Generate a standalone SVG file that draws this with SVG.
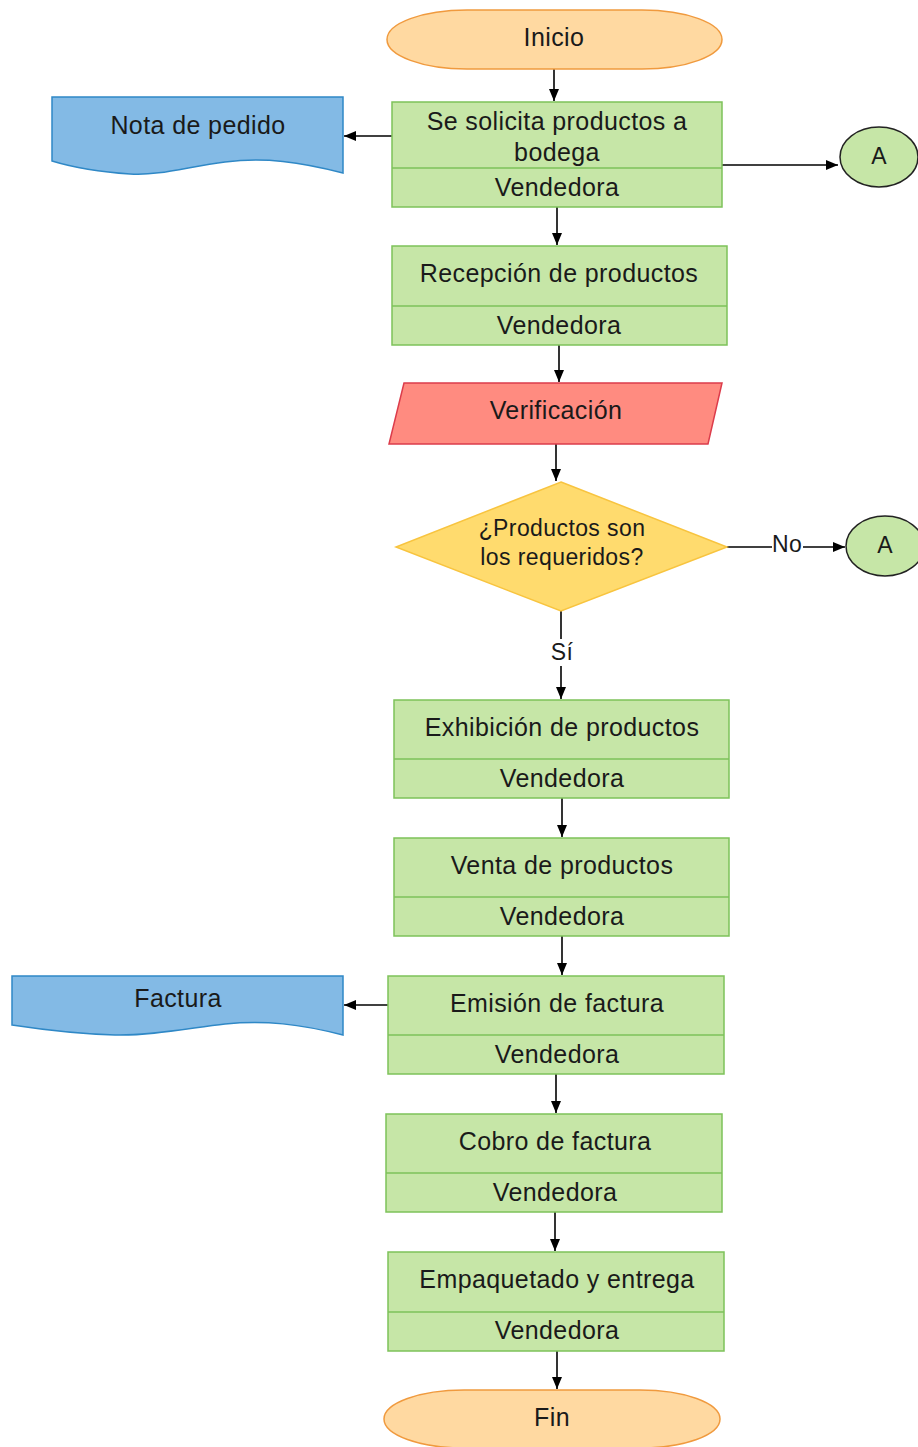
<svg xmlns="http://www.w3.org/2000/svg" width="918" height="1447" viewBox="0 0 918 1447">
  <style>
    text { font-family: "Liberation Sans", Arial, sans-serif; fill: #1a1a1a; text-anchor: middle; dominant-baseline: central; }
    .t { font-size: 25px; letter-spacing: 0.4px; }
    .s { font-size: 23px; letter-spacing: 0.4px; }
    .term { fill: #ffd9a1; stroke: #f09a3e; stroke-width: 1.5; }
    .proc { fill: #c6e6a7; stroke: #7dc25a; stroke-width: 1.5; }
    .doc { fill: #83bae5; stroke: #2f88c6; stroke-width: 1.5; }
    .io { fill: #ff8b80; stroke: #dc3c4b; stroke-width: 1.5; }
    .dec { fill: #ffdb6e; stroke: #f8c43f; stroke-width: 1.5; }
    .conn { fill: #c6e6a7; stroke: #222; stroke-width: 1.5; }
    .edge { fill: none; stroke: #000; stroke-width: 1.6; }
  </style>
  <defs>
    <marker id="arrow" viewBox="0 0 12 10" refX="12" refY="5" markerWidth="12" markerHeight="10" markerUnits="userSpaceOnUse" orient="auto">
      <path d="M0,0 L12,5 L0,10 Z" fill="#000"/>
    </marker>
  </defs>

  <g id="connectors">
    <line class="edge" x1="554" y1="69" x2="554" y2="101" marker-end="url(#arrow)"/>
    <line class="edge" x1="392" y1="136" x2="344" y2="136" marker-end="url(#arrow)"/>
    <line class="edge" x1="722" y1="165" x2="838" y2="165" marker-end="url(#arrow)"/>
    <line class="edge" x1="557" y1="207" x2="557" y2="245" marker-end="url(#arrow)"/>
    <line class="edge" x1="559" y1="345" x2="559" y2="382" marker-end="url(#arrow)"/>
    <line class="edge" x1="556" y1="444" x2="556" y2="481" marker-end="url(#arrow)"/>
    <polyline class="edge" points="727,547 772,547"/>
    <line class="edge" x1="803" y1="547" x2="845" y2="547" marker-end="url(#arrow)"/>
    <line class="edge" x1="561" y1="611" x2="561" y2="639"/>
    <line class="edge" x1="561" y1="666" x2="561" y2="699" marker-end="url(#arrow)"/>
    <line class="edge" x1="562" y1="798" x2="562" y2="837" marker-end="url(#arrow)"/>
    <line class="edge" x1="562" y1="936" x2="562" y2="975" marker-end="url(#arrow)"/>
    <line class="edge" x1="388" y1="1005" x2="344" y2="1005" marker-end="url(#arrow)"/>
    <line class="edge" x1="556" y1="1074" x2="556" y2="1113" marker-end="url(#arrow)"/>
    <line class="edge" x1="555" y1="1212" x2="555" y2="1251" marker-end="url(#arrow)"/>
    <line class="edge" x1="557" y1="1351" x2="557" y2="1389" marker-end="url(#arrow)"/>
    <text class="s" x="787" y="544">No</text>
    <text class="s" x="562" y="652">Sí</text>
  </g>

  <g id="inicio">
    <rect class="term" x="387" y="10" width="335" height="59" rx="80" ry="29.5"/>
    <text class="t" x="554" y="37">Inicio</text>
  </g>

  <g id="solicita">
    <rect class="proc" x="392" y="102" width="330" height="105"/>
    <line class="proc" x1="392" y1="168" x2="722" y2="168"/>
    <text class="t" x="557" y="121">Se solicita productos a</text>
    <text class="t" x="557" y="152">bodega</text>
    <text class="t" x="557" y="187">Vendedora</text>
  </g>

  <g id="nota-pedido">
    <path class="doc" d="M52,97 H343 V173 C300,162 265,157 225,162 C190,166 160,176 130,174 C100,172 75,168 52,161 Z"/>
    <text class="t" x="198" y="125">Nota de pedido</text>
  </g>

  <g id="conector-a1">
    <ellipse class="conn" cx="879" cy="157" rx="39" ry="30"/>
    <text class="s" x="879" y="156">A</text>
  </g>

  <g id="recepcion">
    <rect class="proc" x="392" y="246" width="335" height="99"/>
    <line class="proc" x1="392" y1="306" x2="727" y2="306"/>
    <text class="t" x="559" y="273">Recepción de productos</text>
    <text class="t" x="559" y="325">Vendedora</text>
  </g>

  <g id="verificacion">
    <polygon class="io" points="404,383 722,383 708,444 389,444"/>
    <text class="t" x="556" y="410">Verificación</text>
  </g>

  <g id="decision">
    <polygon class="dec" points="561,482 727,547 561,611 396,547"/>
    <text class="s" x="562" y="528">¿Productos son</text>
    <text class="s" x="562" y="557">los requeridos?</text>
  </g>

  <g id="conector-a2">
    <ellipse class="conn" cx="885" cy="546" rx="39" ry="30"/>
    <text class="s" x="885" y="545">A</text>
  </g>

  <g id="exhibicion">
    <rect class="proc" x="394" y="700" width="335" height="98"/>
    <line class="proc" x1="394" y1="759" x2="729" y2="759"/>
    <text class="t" x="562" y="727">Exhibición de productos</text>
    <text class="t" x="562" y="778">Vendedora</text>
  </g>

  <g id="venta">
    <rect class="proc" x="394" y="838" width="335" height="98"/>
    <line class="proc" x1="394" y1="897" x2="729" y2="897"/>
    <text class="t" x="562" y="865">Venta de productos</text>
    <text class="t" x="562" y="916">Vendedora</text>
  </g>

  <g id="emision">
    <rect class="proc" x="388" y="976" width="336" height="98"/>
    <line class="proc" x1="388" y1="1035" x2="724" y2="1035"/>
    <text class="t" x="557" y="1003">Emisión de factura</text>
    <text class="t" x="557" y="1054">Vendedora</text>
  </g>

  <g id="factura">
    <path class="doc" d="M12,976 H343 V1035 C300,1024 265,1020 225,1024 C190,1028 150,1036 115,1035 C80,1034 45,1030 12,1025 Z"/>
    <text class="t" x="178" y="998">Factura</text>
  </g>

  <g id="cobro">
    <rect class="proc" x="386" y="1114" width="336" height="98"/>
    <line class="proc" x1="386" y1="1173" x2="722" y2="1173"/>
    <text class="t" x="555" y="1141">Cobro de factura</text>
    <text class="t" x="555" y="1192">Vendedora</text>
  </g>

  <g id="empaquetado">
    <rect class="proc" x="388" y="1252" width="336" height="99"/>
    <line class="proc" x1="388" y1="1312" x2="724" y2="1312"/>
    <text class="t" x="557" y="1279">Empaquetado y entrega</text>
    <text class="t" x="557" y="1330">Vendedora</text>
  </g>

  <g id="fin">
    <rect class="term" x="384" y="1390" width="336" height="58" rx="80" ry="29"/>
    <text class="t" x="552" y="1417">Fin</text>
  </g>
</svg>
